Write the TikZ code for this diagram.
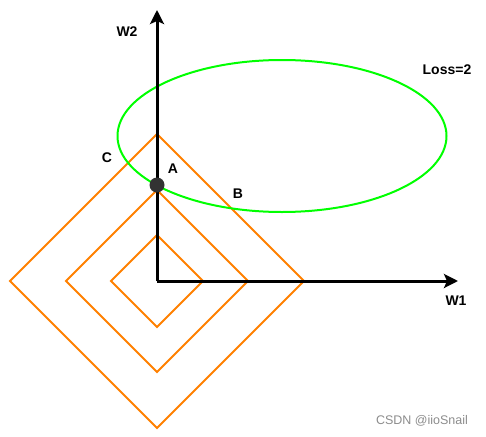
\documentclass[tikz,border=0pt]{standalone}
\usepackage{fontspec}
\setmainfont{Liberation Sans}
\usetikzlibrary{arrows.meta,calc,shapes.geometric}
\definecolor{dorange}{HTML}{FF8000}
\definecolor{dgreen}{HTML}{00FF00}
\definecolor{ddot}{HTML}{333333}
\begin{document}
\begin{tikzpicture}[x=1pt,y=-1pt,
  axisline/.style={line width=3pt,-{Stealth[length=14pt,width=14pt,inset=3pt]}},
  diam/.style={draw=dorange,line width=2pt,line join=miter},
  lbl/.style={font=\fontsize{14}{16}\selectfont\bfseries,inner sep=0pt}]
\useasboundingbox (0,0) rectangle (486,436);
\coordinate (O) at (157,281);
\coordinate (xend) at (458,281);
\coordinate (yend) at (157,10);
% diamonds
\foreach \r/\n in {46/s,91/m,147/l}{
  \draw[diam] ($(O)+(0,-\r)$) -- ($(O)+(\r,0)$) -- ($(O)+(0,\r)$) -- ($(O)+(-\r,0)$) -- cycle;
}
% ellipse
\node[draw=dgreen,line width=2pt,ellipse,minimum width=329pt,minimum height=152pt,inner sep=0pt] (ell) at (282,136) {};
% axes
\draw[axisline] (O) -- (xend);
\draw[axisline] (O) -- (yend);
% dot
\node[circle,fill=ddot,minimum size=15pt,inner sep=0pt] (A) at (157,185) {};
% labels
\node[lbl] (w2) at (127,32) {W2};
\node[lbl] (w1) at (456,301) {W1};
\node[lbl] (loss) at (447,70) {Loss=2};
\node[lbl] (c) at (107,158) {C};
\node[lbl] (a) at (173,169) {A};
\node[lbl] (b) at (238,194) {B};
\node[font=\fontsize{12.5}{14}\selectfont,text=black!45,inner sep=0pt] (wm) at (422,421) {CSDN @iioSnail};
\end{tikzpicture}
\end{document}
